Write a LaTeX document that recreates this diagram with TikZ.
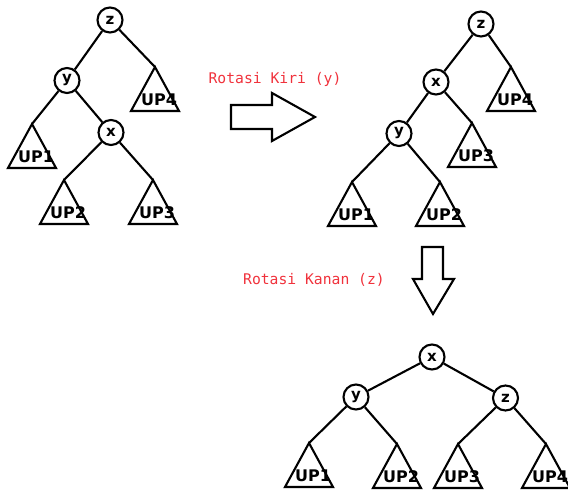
\documentclass[tikz,border=0pt]{standalone}
\usepackage{fontspec}
\newfontfamily\treefont{DejaVu Sans}
\newfontfamily\notefont{DejaVu Sans Mono}
\definecolor{notered}{RGB}{240,50,60}
\tikzset{
  keynode/.style={circle, draw, line width=2.1pt, minimum size=25pt, inner sep=0pt,
    font=\treefont\bfseries\fontsize{15}{15}\selectfont},
  link/.style={line width=2.1pt},
  subtri/.style={line width=2.1pt, line join=miter},
  sublabel/.style={font=\treefont\bfseries\fontsize{16}{16}\selectfont, inner sep=0pt},
  note/.style={font=\notefont\fontsize{14.7}{14.7}\selectfont, text=notered, inner sep=0pt},
  bigarrow/.style={draw, line width=2.1pt, line join=miter, fill=white},
}
% subtree triangle: name, apex x, apex y, label
\newcommand\subtree[4]{%
  \coordinate (#1) at (#2,#3);
  \draw[subtri] (#1) -- ++(-24,44) -- ++(48,0) -- cycle;
  \node[sublabel] (#1-l) at ([shift={(4,33)}]#1) {#4};
}
\begin{document}
\begin{tikzpicture}[x=1pt, y=-1pt]
\useasboundingbox (0,0) rectangle (568,492);

% first tree
\node[keynode] (z1) at (110,20) {z};
\node[keynode] (y1) at (67,80.5) {y};
\node[keynode] (x1) at (111,132.5) {x};
\subtree{a4}{155}{67}{UP4}
\subtree{a1}{32}{124}{UP1}
\subtree{a2}{64}{180}{UP2}
\subtree{a3}{153}{180}{UP3}
\draw[link] (z1) -- (y1);
\draw[link] (z1) -- (a4);
\draw[link] (y1) -- (a1);
\draw[link] (y1) -- (x1);
\draw[link] (x1) -- (a2);
\draw[link] (x1) -- (a3);

% left rotation step
\node[note] (kiri) at (275,79) {Rotasi Kiri (y)};
\draw[bigarrow] (231,105) -- (272,105) -- (272,93) -- (315,117) -- (272,141) -- (272,129) -- (231,129) -- cycle;

% second tree
\node[keynode] (z2) at (481,24) {z};
\node[keynode] (x2) at (436,82) {x};
\node[keynode] (y2) at (399,133.5) {y};
\subtree{b4}{511}{67}{UP4}
\subtree{b3}{472}{123}{UP3}
\subtree{b1}{352}{182}{UP1}
\subtree{b2}{440}{182}{UP2}
\draw[link] (z2) -- (x2);
\draw[link] (z2) -- (b4);
\draw[link] (x2) -- (y2);
\draw[link] (x2) -- (b3);
\draw[link] (y2) -- (b1);
\draw[link] (y2) -- (b2);

% right rotation step
\node[note] (kanan) at (314,280) {Rotasi Kanan (z)};
\draw[bigarrow] (422,247) -- (443,247) -- (443,279) -- (454,279) -- (433,314) -- (413,279) -- (422,279) -- cycle;

% third tree
\node[keynode] (x3) at (432,357) {x};
\node[keynode] (y3) at (356,397) {y};
\node[keynode] (z3) at (505.5,398) {z};
\subtree{c1}{309}{443}{UP1}
\subtree{c2}{397}{444}{UP2}
\subtree{c3}{458}{444}{UP3}
\subtree{c4}{546}{444}{UP4}
\draw[link] (x3) -- (y3);
\draw[link] (x3) -- (z3);
\draw[link] (y3) -- (c1);
\draw[link] (y3) -- (c2);
\draw[link] (z3) -- (c3);
\draw[link] (z3) -- (c4);
\end{tikzpicture}
\end{document}
